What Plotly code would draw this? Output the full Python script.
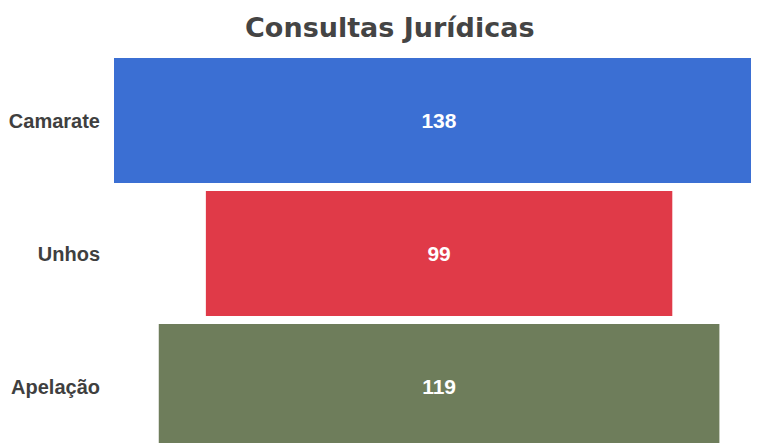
import plotly.graph_objects as go

categories = ["Camarate", "Unhos", "Apelação"]
values = [138, 99, 119]
colors = ["#3b6fd3", "#e03a48", "#6e7d5b"]

fig = go.Figure()
fig.add_trace(go.Bar(
    y=categories, x=values, base=[-v / 2 for v in values],
    orientation="h",
    marker=dict(color=colors, line=dict(width=0)),
    text=[f"<b>{v}</b>" for v in values], textposition="inside",
    insidetextanchor="middle",
    textfont=dict(family="Liberation Sans Narrow, Arial Narrow, sans-serif", size=21, color="white"),
    hoverinfo="skip",
))

# page body has an 8px margin, so the figure is offset a little
fig.update_layout(
    title=dict(text="<b>Consultas Jurídicas</b>", x=0.503, xanchor="center", y=0.955, yanchor="middle",
               font=dict(family="DejaVu Sans, sans-serif", size=27, color="#444444")),
    width=759, height=443,
    margin=dict(l=106, r=0, t=50, b=0),
    paper_bgcolor="white", plot_bgcolor="white",
    bargap=0.06, showlegend=False,
    font=dict(family="Liberation Sans, Arial, sans-serif"),
)
fig.update_xaxes(range=[-69, 69.6], autorange=False, visible=False)
fig.update_yaxes(range=[2.485, -0.47], autorange=False, showgrid=False, showline=False,
                 ticks="", ticklabelstandoff=13,
                 tickfont=dict(family="Liberation Sans, Arial, sans-serif", size=20, color="#3f3f3f"),
                 tickprefix="<b>", ticksuffix="</b>")

fig.write_html("out.html")
